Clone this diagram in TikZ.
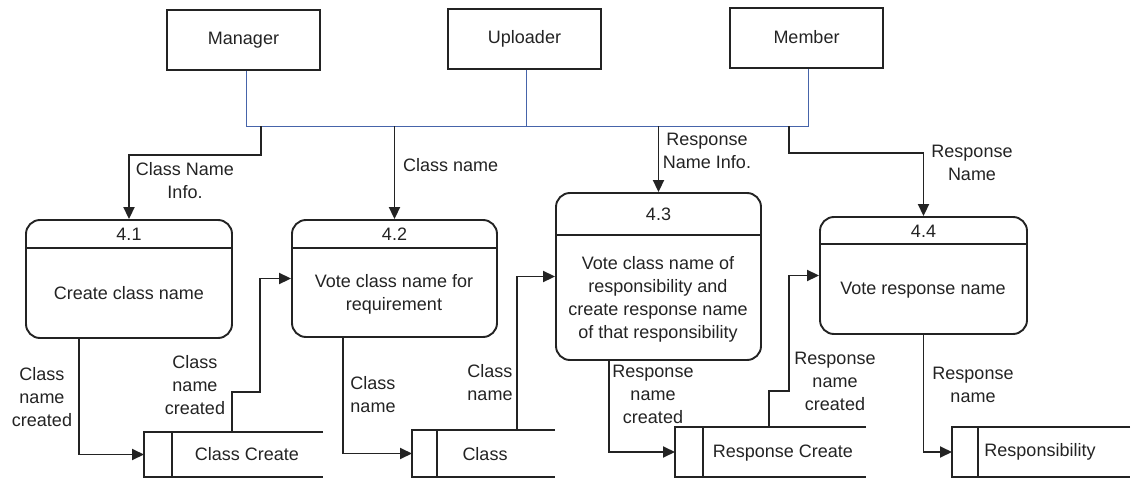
\documentclass[tikz,border=0pt]{standalone}
\usepackage{fontspec}
\setmainfont{Liberation Sans}
\usetikzlibrary{arrows.meta}
\definecolor{busblue}{RGB}{70,100,170}
\definecolor{ink}{RGB}{35,35,35}
\begin{document}
\begin{tikzpicture}[x=1pt,y=-1pt,
	font=\fontsize{18}{23}\selectfont,text=ink,
	entity/.style={draw=ink,line width=2pt,minimum width=153pt,minimum height=60pt},
	proc/.style={draw=ink,line width=1.9pt,rounded corners=14pt},
	store/.style={draw=ink,line width=1.9pt},
	flow/.style={draw=ink,line width=1.9pt,-{Triangle[length=12pt,width=11pt]}},
	bus/.style={draw=busblue,line width=1pt},
	lbl/.style={align=center,inner sep=0pt}]
	\useasboundingbox (0,0) rectangle (1136,479);
	\node[entity] (mgr) at (243.5,40) {Manager};
	\node[entity] (upl) at (524.5,39) {Uploader};
	\node[entity] (mem) at (806.5,37.5) {Member};
	\coordinate (busL) at (246,126);
	\coordinate (busR) at (808,126);
	\draw[bus] ([xshift=2.5pt]mgr.south) -- (busL) -- (busR) -- ([xshift=1.5pt]mem.south);
	\draw[bus] ([xshift=1.5pt]upl.south) -- ([xshift=1.5pt]upl.south |- busL);
	\foreach \n/\x/\y/\w/\h/\d/\ty/\num in {p1/129/279/206/118/29/234/4.1,p2/394.5/278.5/205/117/29/234/4.2,p3/658.5/276.5/205/167/43/214/4.3,p4/923.5/275.5/207/117/28/231/4.4}{
		\node[proc,minimum width=\w pt,minimum height=\h pt] (\n) at (\x,\y) {};
		\draw[store] ([yshift=-\d pt]\n.north west) -- ([yshift=-\d pt]\n.north east);
		\node (t\n) at (\x,\ty) {\num};
	}
	\node[lbl] (b1) at (129,293) {Create class name};
	\node[lbl] (b2) at (394,294) {Vote class name for\\requirement};
	\node[lbl] (b3) at (658,299) {Vote class name of\\responsibility and\\create response name\\of that responsibility};
	\node[lbl] (b4) at (923,290) {Vote response name};
	\foreach \n/\xl/\xd/\xr/\yt in {s1/144/172/323/432,s2/412/437/555/430,s3/675/703/866/427,s4/952/978/1130/427}{
		\draw[store] (\xr,\yt) -- (\xl,\yt) -- (\xl,477) -- (\xr,477) (\xd,\yt) -- (\xd,477);
		\coordinate (\n) at (\xl,{(\yt+477)/2});
		\coordinate (\n top) at (\xl,\yt);
	}
	\node[lbl] (st1) at (247,454) {Class Create};
	\node[lbl] (st2) at (485,454) {Class};
	\node[lbl] (st3) at (783,453) {Response Create};
	\node[lbl] (st4) at (1040,452) {Responsibility};
	\coordinate (j1) at (261,126);
	\coordinate (j4) at (789,126);
	\draw[flow] (j1) -- ++(0,29) -| (p1.north);
	\draw[flow] (p2.north |- busL) -- (p2.north);
	\draw[flow] (p3.north |- busL) -- (p3.north);
	\draw[flow] (j4) -- ++(0,27) -| (p4.north);
	\draw[flow] ([xshift=-50pt]p1.south) |- (s1);
	\draw[flow] ([xshift=88pt]s1top) -- ++(0,-40) -- ++(28,0) |- (p2.west);
	\draw[flow] ([xshift=-51.5pt]p2.south) |- (s2);
	\draw[flow] ([xshift=105pt]s2top) |- (p3.west);
	\draw[flow] ([xshift=-49.5pt]p3.south) |- (s3);
	\draw[flow] ([xshift=94pt]s3top) -- ++(0,-36) -- ++(20,0) |- (p4.west);
	\draw[flow] (p4.south) |- (s4);
	\node[lbl] (l1) at (185,181) {Class Name\\Info.};
	\node[lbl,anchor=west] (l2) at (403,165) {Class name};
	\node[lbl] (l3) at (707,151) {Response\\Name Info.};
	\node[lbl] (l4) at (972,163) {Response\\Name};
	\node[lbl] (l5) at (42,397) {Class\\name\\created};
	\node[lbl] (l6) at (195,385) {Class\\name\\created};
	\node[lbl] (l7) at (373,395) {Class\\name};
	\node[lbl] (l8) at (490,383) {Class\\name};
	\node[lbl] (l9) at (653,394) {Response\\name\\created};
	\node[lbl] (l10) at (835,381) {Response\\name\\created};
	\node[lbl] (l11) at (973,385) {Response\\name};
\end{tikzpicture}
\end{document}
